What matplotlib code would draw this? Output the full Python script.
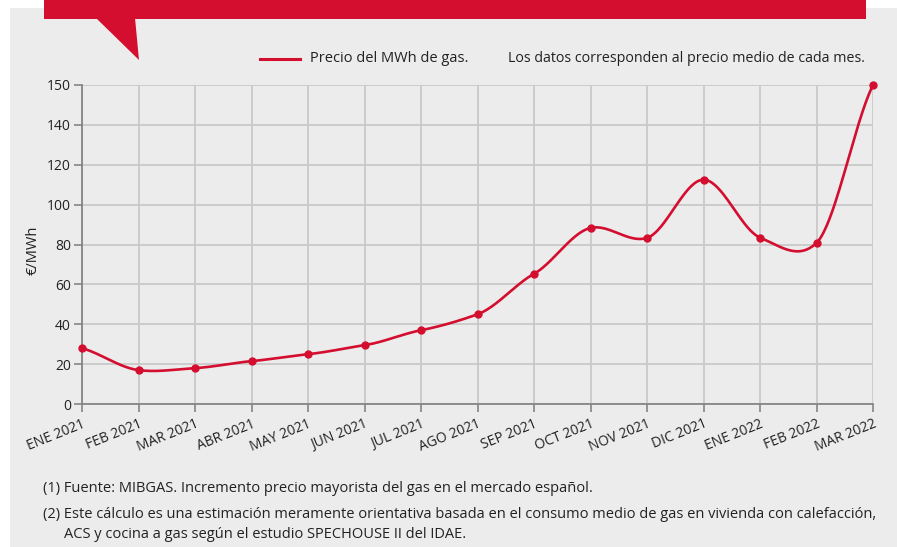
import numpy as np
import matplotlib
matplotlib.use("Agg")
import matplotlib.pyplot as plt
from matplotlib.patches import Rectangle, Polygon

# ---- data ----
months = ["ENE 2021", "FEB 2021", "MAR 2021", "ABR 2021", "MAY 2021", "JUN 2021",
          "JUL 2021", "AGO 2021", "SEP 2021", "OCT 2021", "NOV 2021", "DIC 2021",
          "ENE 2022", "FEB 2022", "MAR 2022"]
prices = [28, 17, 18, 21.5, 25, 29.5, 37, 45, 65.3, 88.3, 83.3, 112.5, 83.5, 80.8, 150]
y_ticks = [0, 20, 40, 60, 80, 100, 120, 140, 150]

legend_label = "Precio del MWh de gas."
note_top = "Los datos corresponden al precio medio de cada mes."
y_label = "€/MWh"
foot1 = "(1) Fuente: MIBGAS. Incremento precio mayorista del gas en el mercado español."
foot2a = "(2) Este cálculo es una estimación meramente orientativa basada en el consumo medio de gas en vivienda con calefacción,"
foot2b = "ACS y cocina a gas según el estudio SPECHOUSE II del IDAE."

RED = "#d40e2f"
BG = "#ececec"
GRID = "#c9c9c9"
AXC = "#858585"
TXT = "#222222"

plt.rcParams['font.family'] = ['Open Sans', 'DejaVu Sans']

W, H = 897, 547
fig = plt.figure(figsize=(W / 100, H / 100), dpi=100, facecolor="white")

def fx(px):
    return px / W

def fy(py):
    return 1 - py / H

# background panel
fig.patches.append(Rectangle((fx(10), 0), 1, fy(8), transform=fig.transFigure,
                             facecolor=BG, edgecolor="none", zorder=-3))
# red banner and pointer
fig.patches.append(Rectangle((fx(44), fy(19)), fx(866) - fx(44), fy(0) - fy(19),
                             transform=fig.transFigure, facecolor=RED, edgecolor="none", zorder=-2))
fig.patches.append(Polygon([(fx(96), fy(18)), (fx(135), fy(18)), (fx(139), fy(60))],
                           closed=True, transform=fig.transFigure, facecolor=RED,
                           edgecolor="none", zorder=-2))

ax = fig.add_axes([fx(82), fy(404), fx(873) - fx(82), fy(85) - fy(404)])
ax.patch.set_alpha(0)
ax.set_zorder(1)

# piecewise scale: 0-140 linear, 140-150 stretched (as in the original axis)
def fwd(v):
    v = np.asarray(v, dtype=float)
    return np.where(v <= 140, v, 140 + (v - 140) * 2)

def inv(t):
    t = np.asarray(t, dtype=float)
    return np.where(t <= 140, t, 140 + (t - 140) / 2)

ax.set_yscale("function", functions=(fwd, inv))

x = np.arange(len(months))
t = fwd(prices)
n = len(t)

# cardinal spline in display-linear space with reflected end points
K = 0.72
tp = np.concatenate([[2 * t[0] - t[1]], t, [2 * t[-1] - t[-2]]])
xs, ys = [], []
for i in range(n - 1):
    p0, p1, p2, p3 = tp[i], tp[i + 1], tp[i + 2], tp[i + 3]
    m1 = K * (p2 - p0) / 2
    m2 = K * (p3 - p1) / 2
    s = np.linspace(0, 1, 40, endpoint=(i == n - 2))
    h00 = 2 * s**3 - 3 * s**2 + 1
    h10 = s**3 - 2 * s**2 + s
    h01 = -2 * s**3 + 3 * s**2
    h11 = s**3 - s**2
    xs.append(x[i] + s)
    ys.append(h00 * p1 + h10 * m1 + h01 * p2 + h11 * m2)
xs = np.concatenate(xs)
ys = inv(np.concatenate(ys))

ax.plot(xs, ys, color=RED, lw=1.9, solid_capstyle="round", zorder=3, clip_on=False)
ax.plot(x, prices, "o", color=RED, ms=5, zorder=4, clip_on=False)

ax.set_xlim(0, len(months) - 1)
ax.set_ylim(0, 150)
ax.set_yticks(y_ticks)
ax.set_yticklabels([str(v) for v in y_ticks])
ax.set_xticks(x)
ax.set_xticklabels(months, rotation=22, ha="right", rotation_mode="anchor")

ax.grid(True, color=GRID, lw=1.3, zorder=0)
ax.set_axisbelow(True)
for sp in ["top", "right"]:
    ax.spines[sp].set_visible(False)
for sp in ["left", "bottom"]:
    ax.spines[sp].set_color(AXC)
    ax.spines[sp].set_linewidth(1.3)
ax.tick_params(axis="both", colors=AXC, length=6, width=1.2, labelcolor=TXT, labelsize=10)
ax.tick_params(axis="y", pad=2)
ax.tick_params(axis="x", pad=3)

# y label
fig.text(fx(33), fy(250), y_label, rotation=90, ha="center", va="center",
         fontsize=10.5, color=TXT)

# legend
fig.lines.append(plt.Line2D([fx(260), fx(300)], [fy(59), fy(59)], transform=fig.transFigure,
                            color=RED, lw=2.2))
fig.text(fx(310), fy(59), legend_label, ha="left", va="center", fontsize=10.5, color=TXT)
fig.text(fx(508), fy(59), note_top, ha="left", va="center", fontsize=10.3, color=TXT)

# footnotes
fig.text(fx(43), fy(488), foot1, ha="left", va="center", fontsize=10.5, color=TXT)
fig.text(fx(43), fy(514), foot2a, ha="left", va="center", fontsize=10.5, color=TXT)
fig.text(fx(64), fy(534), foot2b, ha="left", va="center", fontsize=10.5, color=TXT)

fig.savefig("out.png", dpi=100, facecolor="white")
